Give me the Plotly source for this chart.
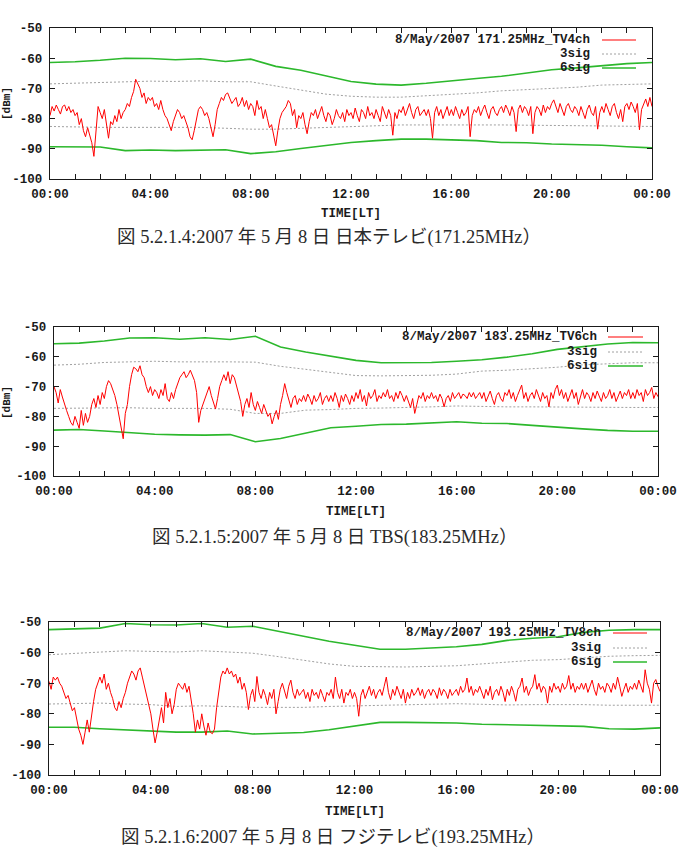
import plotly.graph_objects as go
import pandas as pd

W, H = 680, 853

# ---------------- data ----------------
t5 = pd.date_range("2007-05-08 00:00", "2007-05-09 00:00", freq="5min")
t1h = pd.date_range("2007-05-08 00:00", "2007-05-09 00:00", freq="1h")

# Panel 1: 171.25MHz TV4ch (5-min samples, one row per hour)
tv4_level = [
    -79, -76, -77.5, -75.5, -77, -78.5, -76, -75.5, -77.5, -76, -78, -77,
    -79, -78, -82, -80, -84, -86, -83, -86, -88, -92.5, -84, -76,
    -78, -80, -77, -82, -86.5, -81, -82, -79, -81, -77, -80, -78,
    -77, -75, -76, -73, -71, -67, -68.5, -70, -73, -71.5, -75, -73,
    -74, -73, -76, -75, -77, -74, -77, -79, -80, -82, -84, -81,
    -79, -77, -78, -80, -79, -81, -83, -86, -87, -84, -80, -77,
    -76, -77, -79, -78, -80, -83, -86, -82, -77, -75, -73, -74,
    -72, -71.5, -73, -75, -74, -73, -76, -75, -73, -76, -74, -77,
    -75, -76, -79, -74, -77, -76, -80, -77, -80, -83, -82, -86,
    -89, -84, -80, -78, -77, -76, -74, -75, -79, -77, -83, -79,
    -80, -78, -82, -85, -81, -78, -79, -77, -80, -78, -76, -79,
    -81, -78, -79, -82, -80, -77, -79, -80, -78, -81, -77, -79,
    -78, -80, -76.5, -79, -81, -77, -78, -80, -76, -79, -78, -80,
    -77, -79, -81, -76, -78, -80, -77, -79, -85.5, -78, -80, -77,
    -78, -76, -79, -77, -75, -78, -80, -77, -76, -79, -78, -77,
    -79, -77, -80, -86.5, -78, -76, -79, -77, -80, -78, -76, -79,
    -77, -79, -76, -78, -80, -77, -79, -78, -76, -86, -79, -77,
    -78, -76, -79, -77, -75.5, -78, -80, -77, -76, -78, -79, -77,
    -76, -78, -75.5, -77, -79, -76, -78, -84.3, -77, -75.5, -78, -76,
    -77, -79, -76, -85, -78, -76, -77, -79, -75.5, -78, -76, -77,
    -75, -73.8, -76, -78, -75, -77, -79, -76, -75, -77, -78, -76,
    -77, -79, -76, -78, -80, -77, -75.5, -78, -79, -76, -83.5, -78,
    -76, -78, -75, -77, -79, -76, -75, -78, -80, -77, -81, -76,
    -75, -77, -74.5, -76, -78, -75, -83.7, -77, -75, -73.5, -76, -73,
    -76,
]
tv4_6sig_hi = [-61.4, -61.2, -60.7, -60.0, -60.1, -60.5, -60.2, -61.1, -60.3, -62.7, -64.0, -65.8,
               -67.7, -68.6, -68.9, -68.3, -67.4, -66.7, -66.0, -64.8, -63.8, -63.2, -62.4, -61.8, -61.4]
tv4_3sig_hi = [-68.5, -68.3, -67.9, -67.7, -67.6, -67.7, -67.5, -67.8, -67.8, -69.2, -70.5, -71.9,
               -72.6, -72.9, -72.9, -72.5, -72.0, -71.5, -70.8, -70.4, -70.2, -69.6, -68.9, -68.7, -68.5]
tv4_3sig_lo = [-82.6, -82.8, -82.9, -82.9, -82.9, -83.0, -82.9, -83.2, -83.5, -83.5, -83.2, -82.9,
               -82.6, -82.4, -82.1, -82.1, -82.2, -82.1, -82.1, -82.2, -82.2, -82.3, -82.4, -82.5, -82.6]
tv4_6sig_lo = [-89.3, -89.3, -89.4, -90.6, -90.4, -90.6, -90.5, -90.3, -91.6, -91.0, -89.9, -88.9,
               -87.9, -87.3, -86.8, -86.8, -87.1, -87.3, -87.9, -88.0, -88.4, -88.5, -88.8, -89.3, -89.7]

# Panel 2: 183.25MHz TV6ch
tv6_level = [
    -70, -72, -75.5, -71, -73.5, -76, -78, -80, -82, -83, -80, -82,
    -84, -78, -83, -79, -82, -80, -76, -74, -77, -73, -76, -72,
    -74, -70, -68, -69, -71, -73, -76, -80, -83, -87.5, -79, -76,
    -70, -66, -63.5, -64, -65, -63, -66, -67, -70, -72, -70, -73,
    -71, -72, -74, -71, -73, -69, -74, -75, -72, -74, -71, -69,
    -67, -66, -65, -67, -66, -64.5, -66, -68, -72, -82, -78, -76,
    -74, -72, -70, -73, -75, -77.5, -74, -70, -68, -66, -68, -65,
    -69, -66, -67, -70, -73, -75, -80, -76, -74, -77, -72, -76,
    -78, -75, -77, -79, -76, -78, -80, -79, -82.5, -80, -78, -81,
    -76, -73, -69, -72, -75, -77, -74, -73, -76, -74, -75, -73,
    -75, -72.5, -74, -76, -73, -75, -74, -72, -76, -74, -73, -75,
    -73, -75, -72, -74, -77, -73, -75, -72.5, -74, -76, -73, -75,
    -72, -74, -71, -75, -73, -76.5, -72, -74, -73, -71, -75, -73,
    -74, -72, -73.5, -71, -74, -73, -75, -72, -74, -71.5, -73, -75,
    -73, -75, -77, -74, -79, -76, -73, -74, -72, -75, -73, -74,
    -72, -74, -73, -75, -72.5, -74, -76.8, -74, -73, -75, -72, -74,
    -73, -72, -74, -72.5, -73, -74, -72, -73.5, -72, -74, -73, -72,
    -74, -72, -75, -73, -71.5, -74, -76, -73, -72, -74, -75, -72,
    -73, -71, -74, -72, -75, -73, -71, -69.5, -74, -72, -75, -73,
    -72, -74, -71, -73, -75, -72, -74, -73, -76.8, -72, -74, -71,
    -69.5, -73, -71, -74, -72, -75, -73, -71, -74, -72, -76, -73,
    -71, -74, -72, -73, -75, -72, -74, -71.5, -73, -75, -72, -74,
    -73, -71, -74, -72, -75, -73, -71.5, -74, -72, -73, -71, -74,
    -72, -74, -71, -73, -72, -75, -71, -73, -72, -70.3, -74, -72,
    -73.4,
]
tv6_6sig_hi = [-55.6, -55.4, -54.7, -53.7, -53.6, -54.1, -53.6, -54.2, -53.1, -56.7, -58.4, -59.8,
               -61.2, -62.0, -62.0, -61.9, -61.5, -61.0, -60.1, -59.0, -57.5, -56.6, -55.7, -55.2, -55.3]
tv6_3sig_hi = [-62.8, -62.5, -61.9, -61.6, -61.5, -61.7, -61.6, -61.7, -61.8, -63.2, -64.2, -65.3,
               -66.3, -66.4, -66.4, -66.2, -65.8, -64.8, -64.5, -64.1, -63.5, -62.7, -62.3, -62.0, -62.0]
tv6_3sig_lo = [-77.3, -77.2, -77.0, -77.1, -77.3, -77.3, -77.3, -77.6, -79.0, -79.0, -77.9, -77.7,
               -77.3, -77.2, -77.1, -76.8, -76.5, -76.7, -76.8, -76.8, -76.9, -76.9, -76.9, -77.0, -77.0]
tv6_6sig_lo = [-84.6, -84.4, -84.9, -85.5, -86.0, -86.2, -86.3, -86.1, -88.5, -87.4, -85.7, -83.8,
               -83.3, -82.7, -82.6, -82.1, -81.8, -82.3, -82.4, -83.0, -83.7, -84.2, -84.7, -85.0, -85.0]

# Panel 3: 193.25MHz TV8ch
tv8_level = [
    -69.4, -72, -68, -69, -68, -70, -71, -73, -75, -74, -77, -79,
    -78, -82, -85, -87, -90, -86, -82, -86, -80, -76, -72, -70,
    -68, -70, -67, -72, -70, -73, -75, -78, -79, -76, -78, -75,
    -73, -70, -68, -66, -67, -69, -66, -65, -68, -71, -73, -76,
    -80, -85, -89.5, -86, -82, -78, -83, -73, -78, -75, -80, -77,
    -72, -70, -71, -72, -70, -73, -71, -75, -80, -86, -82, -85,
    -80, -84, -87, -83, -86, -86.5, -85, -78, -72, -68, -66, -67,
    -65, -67, -66, -68, -67, -70, -68, -72, -70, -73, -78.6, -74,
    -72, -76, -67.8, -73, -75, -72, -74, -77, -73, -75, -72, -80,
    -76, -72, -70, -73, -75, -71, -69, -73, -75, -72, -74, -73,
    -72, -75, -73, -76, -72, -74, -73, -75, -72, -74, -76, -73,
    -74, -72, -75, -68, -73, -75, -72, -76.5, -73, -74, -72, -75,
    -73, -75, -80.8, -74, -72, -75, -73, -71, -74, -72, -75, -73,
    -72, -74, -71, -68, -73, -75.4, -72, -74, -71, -73, -75, -72,
    -76.5, -73, -75, -72, -74, -73, -71.5, -74, -72, -75, -73, -72,
    -74, -72, -73, -75, -71.5, -74, -72, -73, -75, -72, -74, -73,
    -72, -74, -71, -73, -72, -68.3, -73, -71, -74, -72, -73, -71,
    -73, -75, -72, -74, -71, -75.4, -73, -72, -74, -71, -73, -76,
    -72, -74, -71, -73, -75.9, -72, -71, -68.3, -73, -71, -74, -72,
    -71, -67.2, -72, -70, -73, -71, -72, -76.5, -71, -73, -70, -72,
    -71, -73, -70, -72, -71, -67.5, -72, -70, -73, -71, -72, -70,
    -72, -70, -73, -71, -69, -72, -74, -70, -72, -71, -73, -70,
    -71, -73, -70, -72, -68, -71, -74.3, -72, -70, -73, -71, -72,
    -70, -72, -69, -71, -73, -65.6, -70, -72, -76.5, -70, -68.8, -71,
    -72.7,
]
tv8_6sig_hi = [-52.5, -52.3, -52.0, -50.5, -50.9, -51.0, -50.5, -51.7, -51.4, -53.0, -54.7, -56.3,
               -57.6, -58.9, -58.9, -58.5, -58.1, -57.3, -56.0, -55.3, -54.8, -53.4, -52.7, -52.5, -52.5]
tv8_3sig_hi = [-60.7, -60.2, -59.7, -59.4, -59.6, -59.8, -59.4, -59.8, -60.2, -61.3, -62.4, -63.7,
               -64.5, -64.7, -64.7, -64.5, -64.3, -63.7, -63.2, -62.5, -62.3, -61.8, -61.2, -61.0, -60.9]
tv8_3sig_lo = [-76.8, -76.6, -76.5, -76.8, -77.0, -77.6, -77.4, -77.6, -77.9, -77.9, -77.9, -77.6,
               -77.4, -77.2, -77.1, -76.9, -76.7, -76.9, -77.1, -77.0, -76.9, -77.0, -77.2, -77.2, -77.2]
tv8_6sig_lo = [-84.4, -84.4, -84.9, -85.2, -85.6, -86.0, -86.0, -85.6, -86.6, -86.4, -86.1, -85.2,
               -84.0, -82.8, -82.8, -82.8, -83.0, -83.4, -83.6, -83.6, -83.9, -84.1, -84.9, -85.0, -84.6]

legend_names = ["8/May/2007 171.25MHz_TV4ch", "8/May/2007 183.25MHz_TV6ch", "8/May/2007 193.25MHz_TV8ch"]
captions = [
    "図 5.2.1.4:2007 年 5 月 8 日 日本テレビ(171.25MHz）",
    "図 5.2.1.5:2007 年 5 月 8 日 TBS(183.25MHz）",
    "図 5.2.1.6:2007 年 5 月 8 日 フジテレビ(193.25MHz）",
]
y_ticks = [-100, -90, -80, -70, -60, -50]
x_label = "TIME[LT]"
y_label = "[dBm]"

# ---------------- styling / layout ----------------
RED = "#ff0000"
GREEN = "#2cb82c"
GRAY = "#a0a0a0"
INK = "#1a1a1a"
MONO = "Liberation Mono, DejaVu Sans Mono, monospace"
CAPFONT = "Liberation Serif, Noto Sans CJK JP, serif"

# panel frames in pixels: (left, right, top, bottom)
frames = [(50, 652, 28, 179), (54, 658, 327, 476), (49, 660, 622, 775)]
legend_px = [  # (text right edge, sample x0, sample x1, row y list)
    (592, 602, 636, [40, 54, 68]),
    (599, 608, 643, [337, 352, 366]),
    (603, 613, 647, [633, 648, 662]),
]
xlabel_y = [214, 512, 812]
caption_xy = [(329, 237), (334, 537), (333, 837)]
ylabel_xy = [(7, 104), (7, 403)]

def px_x(x):
    return x / W

def px_y(y):
    return 1 - y / H

panels = [
    (tv4_level, tv4_6sig_hi, tv4_3sig_hi, tv4_3sig_lo, tv4_6sig_lo),
    (tv6_level, tv6_6sig_hi, tv6_3sig_hi, tv6_3sig_lo, tv6_6sig_lo),
    (tv8_level, tv8_6sig_hi, tv8_3sig_hi, tv8_3sig_lo, tv8_6sig_lo),
]

fig = go.Figure()
hour_ticks = list(t1h)
hour_text = [d.strftime("%H:%M") if d.hour % 4 == 0 else "" for d in t1h]
tick_font = dict(family=MONO, size=12.5, color=INK, weight="bold")

annotations = []
shapes = []
for i, (lvl, s6h, s3h, s3l, s6l) in enumerate(panels):
    xa = "x" if i == 0 else f"x{i+1}"
    ya = "y" if i == 0 else f"y{i+1}"
    for ser, col, dash, wd in [(s6h, GREEN, "solid", 1.6), (s6l, GREEN, "solid", 1.6),
                               (s3h, GRAY, "2px,2px", 1), (s3l, GRAY, "2px,2px", 1)]:
        fig.add_trace(go.Scatter(x=t1h, y=ser, mode="lines", xaxis=xa, yaxis=ya,
                                 line=dict(color=col, width=wd, dash=dash),
                                 showlegend=False, hoverinfo="skip"))
    fig.add_trace(go.Scatter(x=t5, y=lvl, mode="lines", xaxis=xa, yaxis=ya,
                             line=dict(color=RED, width=1), showlegend=False))

    l, r, t, b = frames[i]
    axis_common = dict(showline=True, mirror="ticks", linecolor=INK, linewidth=1.3,
                       ticks="inside", ticklen=5, tickcolor=INK, tickwidth=1,
                       showgrid=False, zeroline=False, automargin=False,
                       ticklabeloverflow="allow", tickfont=tick_font)
    fig.layout[f"xaxis{'' if i == 0 else i+1}"] = dict(
        domain=[px_x(l), px_x(r)], anchor=ya, type="date",
        range=[t1h[0], t1h[-1]], tickvals=hour_ticks, ticktext=hour_text,
        ticklabelstandoff=3, **axis_common)
    fig.layout[f"yaxis{'' if i == 0 else i+1}"] = dict(
        domain=[px_y(b), px_y(t)], anchor=xa, range=[-100, -50],
        tickvals=y_ticks, ticktext=[str(v) for v in y_ticks], ticklabelstandoff=4,
        **axis_common)

    # legend (gnuplot style: text then sample)
    tx, sx0, sx1, rows = legend_px[i]
    items = [(legend_names[i], RED, "solid", 1.2), ("3sig", GRAY, "2px,2px", 1), ("6sig", GREEN, "solid", 1.6)]
    for (txt, col, dash, wd), ry in zip(items, rows):
        annotations.append(dict(text=txt, x=px_x(tx), y=px_y(ry), xref="paper", yref="paper",
                                xanchor="right", yanchor="middle", showarrow=False,
                                font=tick_font))
        shapes.append(dict(type="line", xref="paper", yref="paper",
                           x0=px_x(sx0), x1=px_x(sx1), y0=px_y(ry), y1=px_y(ry),
                           line=dict(color=col, width=wd, dash=dash)))

    annotations.append(dict(text=x_label, x=px_x((l + r) / 2), y=px_y(xlabel_y[i]),
                            xref="paper", yref="paper", xanchor="center", yanchor="middle",
                            showarrow=False, font=tick_font))
    if i < 2:
        yx, yy = ylabel_xy[i]
        annotations.append(dict(text=y_label, x=px_x(yx), y=px_y(yy), xref="paper", yref="paper",
                                xanchor="center", yanchor="middle", textangle=-90, showarrow=False,
                                font=dict(family=MONO, size=11, color=INK, weight="bold")))
    cx, cy = caption_xy[i]
    annotations.append(dict(text=captions[i], x=px_x(cx), y=px_y(cy), xref="paper", yref="paper",
                            xanchor="center", yanchor="middle", showarrow=False,
                            font=dict(family=CAPFONT, size=18.5, color="#2a2a2a")))

fig.update_layout(template="none", width=W, height=H, autosize=False,
                  margin=dict(l=0, r=0, t=0, b=0, pad=0, autoexpand=False),
                  paper_bgcolor="white", plot_bgcolor="white",
                  annotations=annotations, shapes=shapes, showlegend=False)

fig.write_html("out.html")
